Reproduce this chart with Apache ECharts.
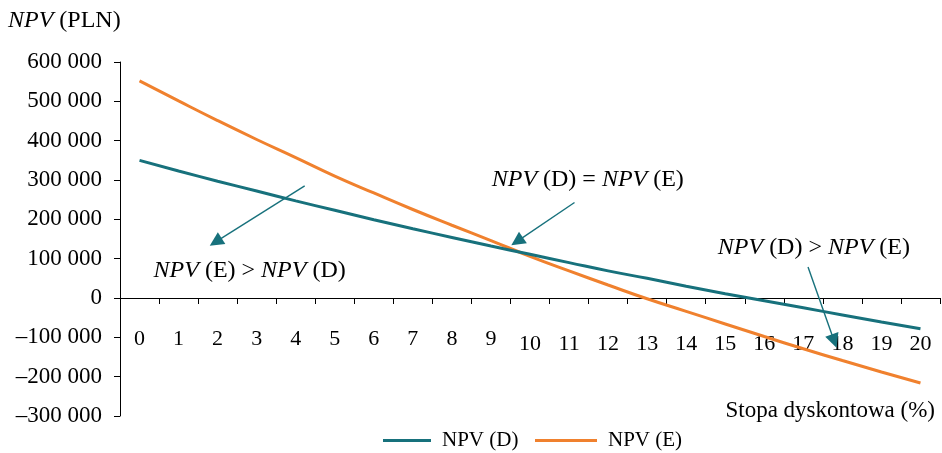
<!DOCTYPE html>
<html>
<head>
<meta charset="utf-8">
<script src="https://cdn.jsdelivr.net/npm/echarts@6/dist/echarts.min.js"></script>
<style>html,body{margin:0;padding:0;background:#fff}#c{width:942px;height:453px}</style>
</head>
<body>
<div id="c"></div>
<script>
// Discount rate (%) categories
const rates = [0,1,2,3,4,5,6,7,8,9,10,11,12,13,14,15,16,17,18,19,20];
const xTickLabels = ['0','1','2','3','4','5','6','7','8','9','10','11','12','13','14','15','16','17','18','19','20'];
// NPV values (PLN)
const npvD = [350000,323000,297000,272000,247000,223000,199000,176000,154000,132000,111000,90000,69000,50000,30000,11000,-7000,-25000,-43000,-61000,-78000];
const npvE = [552000,501000,451000,403000,357000,310000,267000,225000,185000,146000,106000,69000,33000,-2000,-34000,-66000,-98000,-129000,-159000,-188000,-216000];
const yTickValues = [-300000,-200000,-100000,0,100000,200000,300000,400000,500000,600000];
const yTickLabels = ['–300 000','–200 000','–100 000','0','100 000','200 000','300 000','400 000','500 000','600 000'];
const seriesNames = ['NPV (D)','NPV (E)'];
const annotationTexts = ['{i|NPV} (E) > {i|NPV} (D)','{i|NPV} (D) = {i|NPV} (E)','{i|NPV} (D) > {i|NPV} (E)'];
// annotation anchor points in data space [rate, NPV]
const annotationAnchors = [[2.82,68700],[11.48,302000],[17.27,128200]];
const arrowStarts = [[4.23,285200],[11.14,242700],[17.12,78800]];
const arrowEnds = [[1.95,142600],[9.67,144000],[17.79,-109400]];

const FONT = '"Liberation Serif","Times New Roman",serif';
const TEAL = '#17717c';
const ORANGE = '#f0812e';

const chart = echarts.init(document.getElementById('c'), null, {renderer:'canvas'});
const richI = {i:{fontStyle:'italic', fontFamily:FONT, fontSize:24, color:'#000'}};

chart.setOption({
  animation:false,
  backgroundColor:'#fff',
  title:[
    {text:'{i|NPV} (PLN)', left:8, top:9, padding:0,
     textStyle:{fontFamily:FONT, fontSize:24, fontWeight:'normal', color:'#000', rich:richI}},
    {text:'Stopa dyskontowa (%)', right:7, top:399, padding:0,
     textStyle:{fontFamily:FONT, fontSize:23, fontWeight:'normal', color:'#000'}}
  ],
  legend:[
    {data:[seriesNames[0]], left:383, top:430, padding:0, icon:'rect', itemWidth:48, itemHeight:3,
     textStyle:{fontFamily:FONT, fontSize:21, color:'#000', padding:[0,0,0,6]}},
    {data:[seriesNames[1]], left:535, top:430, padding:0, icon:'rect', itemWidth:62, itemHeight:3,
     textStyle:{fontFamily:FONT, fontSize:21, color:'#000', padding:[0,0,0,6]}}
  ],
  grid:{left:120, right:2, top:62, bottom:37, containLabel:false, outerBoundsMode:'none'},
  xAxis:{
    type:'value', min:-0.5, max:20.5,
    axisLine:{show:true, onZero:true, lineStyle:{color:'#000', width:1}},
    axisTick:{show:true, length:6, inside:false, lineStyle:{color:'#000'},
      customValues: rates.map(r=>r-0.5).concat([rates[rates.length-1]+0.5])},
    axisLabel:{show:true, margin:-88, customValues: rates,
      fontFamily:FONT, fontSize:22, color:'#000',
      formatter:function(v){const s=xTickLabels[rates.indexOf(v)]; return v>=10?'{b|'+s+'}':'{a|'+s+'}';},
      rich:{a:{fontFamily:FONT,fontSize:22,color:'#000',lineHeight:22},
            b:{fontFamily:FONT,fontSize:22,color:'#000',lineHeight:32}}},
    splitLine:{show:false}
  },
  yAxis:{
    type:'value', min:-300000, max:600000, interval:100000,
    axisLine:{show:true, onZero:false, lineStyle:{color:'#000', width:1}},
    axisTick:{show:true, length:6, lineStyle:{color:'#000'}},
    axisLabel:{margin:18, fontFamily:FONT, fontSize:23, color:'#000',
      formatter:function(v){const k=yTickValues.indexOf(v); return k>=0?yTickLabels[k]:'';}},
    splitLine:{show:false}
  },
  series:[
    {name:seriesNames[0], type:'line', data:rates.map((r,i)=>[r,npvD[i]]), smooth:true, showSymbol:false,
     lineStyle:{color:TEAL, width:3}, itemStyle:{color:TEAL}, z:3,
     markLine:{silent:true, symbol:['none','triangle'], symbolSize:14, animation:false,
       lineStyle:{color:TEAL, width:1.4, type:'solid'}, label:{show:false},
       data: arrowStarts.map((s,k)=>[{coord:s},{coord:arrowEnds[k]}])},
     markPoint:{silent:true, symbol:'circle', symbolSize:0, animation:false,
       label:{show:true, position:'inside', fontFamily:FONT, fontSize:24, color:'#000', rich:richI,
         formatter:function(p){return annotationTexts[p.dataIndex];}},
       data: annotationAnchors.map(a=>({coord:a}))}
    },
    {name:seriesNames[1], type:'line', data:rates.map((r,i)=>[r,npvE[i]]), smooth:true, showSymbol:false,
     lineStyle:{color:ORANGE, width:3}, itemStyle:{color:ORANGE}, z:2}
  ]
});
</script>
</body>
</html>
